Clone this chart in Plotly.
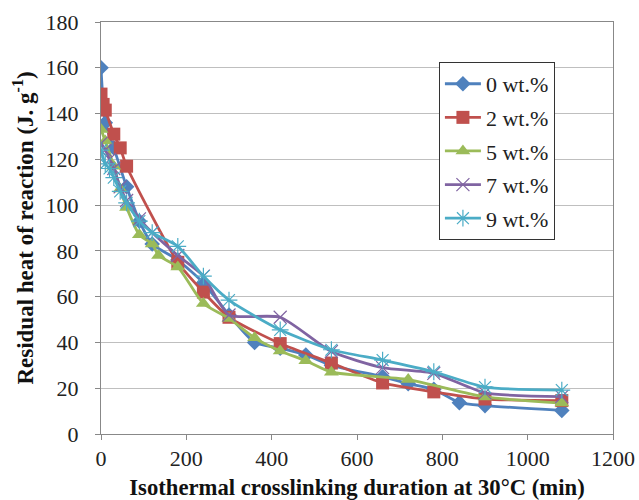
import plotly.graph_objects as go

# Residual heat of reaction vs. isothermal crosslinking time at 30 °C
t_0 = [0, 10, 30, 60, 90, 120, 180, 240, 300, 360, 420, 480, 540, 660, 720, 780, 840, 900, 1080]
h_0 = [160, 136, 125, 108, 93, 83, 76, 66, 52, 40, 37.5, 34.5, 30, 25, 22, 19.5, 13.7, 12.4, 10.3]

t_2 = [0, 5, 10, 30, 45, 60, 180, 240, 300, 420, 540, 660, 780, 900, 1080]
h_2 = [148.5, 144, 141.5, 131, 125, 117, 75, 62, 51, 39.5, 31, 22.3, 18.4, 15.3, 14.6]

t_5 = [0, 10, 30, 45, 60, 90, 120, 135, 180, 240, 300, 360, 420, 480, 540, 720, 900, 1080]
h_5 = [133, 128, 117, 107, 99, 87, 83, 78, 73, 57, 50.5, 42, 36.3, 32, 27, 23.8, 16.2, 13.5]

t_7 = [0, 10, 20, 30, 45, 60, 90, 120, 180, 240, 300, 420, 540, 660, 780, 900, 1080]
h_7 = [127, 124, 120, 116, 108, 102, 94, 88, 78, 69, 52, 51, 36, 29, 26.5, 18, 16.3]

t_9 = [0, 10, 20, 30, 45, 60, 90, 120, 180, 240, 300, 420, 540, 660, 780, 900, 1080]
h_9 = [124, 118, 116, 112, 106, 101, 93, 88, 82, 69, 58.5, 45.5, 36.8, 32.3, 27.2, 20.5, 19.2]

series_names = ["0 wt.%", "2 wt.%", "5 wt.%", "7 wt.%", "9 wt.%"]
series_x = [t_0, t_2, t_5, t_7, t_9]
series_y = [h_0, h_2, h_5, h_7, h_9]
colors = ["#4F81BD", "#C0504D", "#9BBB59", "#8064A2", "#4BACC6"]
symbols = ["diamond", "square", "triangle-up", "x-thin-open", "asterisk-open"]
sizes = [12, 13, 13, 13, 14]

fig = go.Figure()
for i, (name, xs, ys) in enumerate(zip(series_names, series_x, series_y)):
    open_marker = symbols[i].endswith("open")
    fig.add_trace(go.Scatter(
        x=xs, y=ys, name=name, mode="lines+markers",
        legendgroup=name,
        line=dict(color=colors[i], width=2.8, shape="spline", smoothing=0.6),
        marker=dict(
            symbol=symbols[i], size=sizes[i], color=colors[i],
            line=dict(color=colors[i], width=1.2 if open_marker else 0),
        ),
    ))

serif = "Liberation Serif"

fig.update_layout(
    width=639, height=500,
    margin=dict(l=101, r=26, t=22, b=66),
    paper_bgcolor="white", plot_bgcolor="white",
    font=dict(family=serif, size=22, color="#222222"),
    showlegend=True,
    legend=dict(
        x=0.66, y=0.903, xanchor="left", yanchor="top",
        bordercolor="#333333", borderwidth=1, bgcolor="white",
        font=dict(family=serif, size=22, color="#222222"),
        tracegroupgap=2, itemwidth=36,
    ),
    xaxis=dict(
        range=[0, 1200], dtick=200, tick0=0, automargin=False,
        showgrid=False, zeroline=False,
        showline=True, linecolor="#888888", linewidth=1, mirror=True,
        ticks="outside", ticklen=5, tickcolor="#888888",
        ticklabelstandoff=0,
        tickfont=dict(family=serif, size=22, color="#222222"),
        title=dict(text="<b>Isothermal crosslinking duration at 30°C (min)</b>",
                   font=dict(family=serif, size=22.7, color="#111111"), standoff=14),
    ),
    yaxis=dict(
        range=[0, 180], dtick=20, tick0=0, automargin=False,
        showgrid=True, gridcolor="#BFBFBF", gridwidth=1.2,
        zeroline=False,
        showline=True, linecolor="#888888", linewidth=1, mirror=True,
        ticks="outside", ticklen=5, tickcolor="#888888",
        ticklabelstandoff=12,
        tickfont=dict(family=serif, size=22, color="#222222"),
        title=dict(text="<b>Residual heat of reaction (J. g<sup>-1</sup>)</b>",
                   font=dict(family=serif, size=23, color="#111111"), standoff=5),
    ),
)

fig.write_html("out.html")
